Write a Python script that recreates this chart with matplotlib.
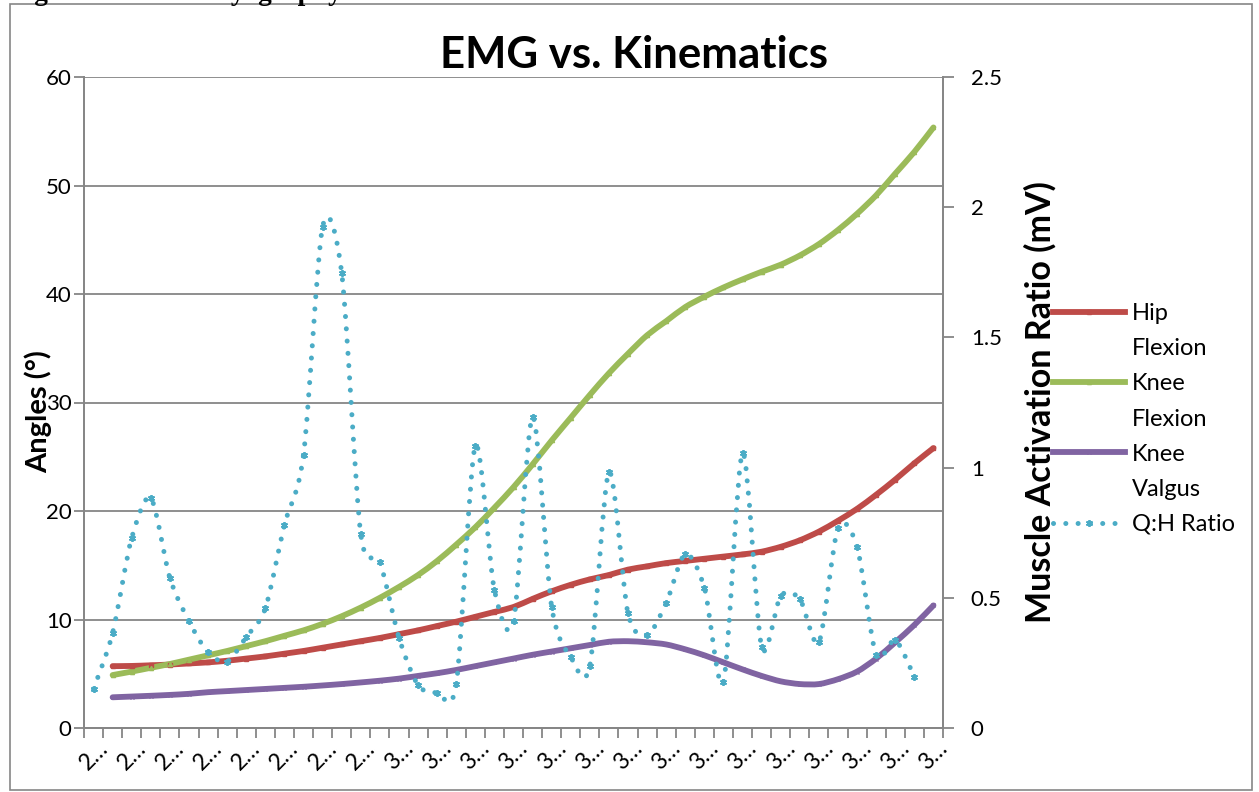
import numpy as np
import matplotlib
matplotlib.use("Agg")
import matplotlib.pyplot as plt
from matplotlib.path import Path
from matplotlib.patches import PathPatch, Rectangle
from matplotlib.lines import Line2D

plt.rcParams['font.family'] = ['Lato', 'DejaVu Sans']

# category labels (truncated time stamps as shown by Excel)
time_labels = ["2\u2026"] * 16 + ["3\u2026"] * 29

# kinematics (degrees) - categories 2..45
hip_flexion = [5.7, 5.72, 5.78, 5.85, 5.95, 6.05, 6.2, 6.4, 6.6, 6.85, 7.1, 7.4,
               7.7, 8.0, 8.3, 8.65, 9.0, 9.4, 9.8, 10.25, 10.7, 11.15, 11.9, 12.6,
               13.2, 13.7, 14.1, 14.6, 14.9, 15.2, 15.4, 15.6, 15.8, 16.0, 16.25,
               16.7, 17.3, 18.1, 19.1, 20.2, 21.5, 22.9, 24.4, 25.8]
knee_flexion = [4.88, 5.2, 5.55, 5.9, 6.3, 6.7, 7.1, 7.55, 8.0, 8.5, 9.0, 9.6,
                10.3, 11.1, 12.0, 13.0, 14.1, 15.4, 16.9, 18.5, 20.3, 22.2, 24.3,
                26.5, 28.6, 30.7, 32.7, 34.5, 36.2, 37.5, 38.8, 39.75, 40.6, 41.35,
                42.05, 42.7, 43.55, 44.6, 45.9, 47.4, 49.1, 51.1, 53.1, 55.35]
knee_valgus = [2.83, 2.9, 2.97, 3.05, 3.15, 3.3, 3.4, 3.5, 3.6, 3.7, 3.8, 3.92,
               4.05, 4.2, 4.36, 4.55, 4.8, 5.05, 5.35, 5.7, 6.05, 6.4, 6.75, 7.05,
               7.35, 7.65, 7.95, 8.0, 7.9, 7.7, 7.25, 6.7, 6.05, 5.4, 4.8, 4.3,
               4.05, 4.05, 4.5, 5.2, 6.4, 7.9, 9.5, 11.3]
# EMG ratio (mV) - categories 1..44
qh_ratio = [0.15, 0.365, 0.73, 0.883, 0.576, 0.41, 0.29, 0.255, 0.35, 0.46, 0.78,
            1.05, 1.925, 1.747, 0.745, 0.637, 0.347, 0.165, 0.136, 0.169, 1.084,
            0.53, 0.41, 1.195, 0.465, 0.272, 0.238, 0.983, 0.44, 0.357, 0.48,
            0.668, 0.538, 0.178, 1.056, 0.311, 0.507, 0.495, 0.33, 0.768, 0.695,
            0.28, 0.338, 0.196]

RED, GREEN, PURPLE, AQUA = "#BE4B48", "#9BBB59", "#8064A2", "#4BACC6"
GRID = "#868686"


def smooth_path(xs, ys, k=1 / 7):
    # Excel-style smoothed line (Bezier through each point)
    pts = np.column_stack([xs, ys]).astype(float)
    n = len(pts)
    verts = [pts[0]]
    codes = [Path.MOVETO]
    for i in range(n - 1):
        p0 = pts[i - 1] if i > 0 else pts[i]
        p1, p2 = pts[i], pts[i + 1]
        p3 = pts[i + 2] if i + 2 < n else pts[i + 1]
        verts += [p1 + (p2 - p0) * k, p2 - (p3 - p1) * k, p2]
        codes += [Path.CURVE4] * 3
    return Path(verts, codes)


W, H = 1259, 792
fig = plt.figure(figsize=(W / 100, H / 100), dpi=100)
fig.patches.append(Rectangle((10 / W, 1 - 790 / H), 1242 / W, 786 / H,
                             transform=fig.transFigure, fill=False,
                             edgecolor=GRID, lw=1.2))
fig.text(10 / W, 1.0, "Figure 1: Electromyography", family="Liberation Serif",
         weight="bold", fontsize=19.7, va="baseline", ha="left")

ax = fig.add_axes([84 / W, 1 - 728 / H, (943 - 84) / W, (728 - 77) / H])
ax2 = ax.twinx()

n_cat = len(time_labels)
x_kin = np.arange(2, n_cat + 1)
x_emg = np.arange(1, len(qh_ratio) + 1)

sw = 4.2
for vals, col, mk in [(hip_flexion, RED, "s"), (knee_flexion, GREEN, "^"),
                      (knee_valgus, PURPLE, "x")]:
    ax.add_patch(PathPatch(smooth_path(x_kin, vals), fill=False, edgecolor=col,
                           lw=sw, capstyle="round", joinstyle="round", zorder=3))
    ax.plot(x_kin, vals, ls="none", marker=mk, ms=3, color=col, mew=1, zorder=4)

ax2.add_patch(PathPatch(smooth_path(x_emg, qh_ratio), fill=False, edgecolor=AQUA,
                        lw=3.6, linestyle=(0, (0.01, 2.45)), capstyle="round",
                        zorder=3))
ax2.plot(x_emg, qh_ratio, ls="none", marker=(6, 2, 0), ms=5, mew=1.3,
         color=AQUA, zorder=4)

ax.set_xlim(0.5, n_cat + 0.5)
ax.set_ylim(0, 60)
ax2.set_ylim(0, 2.5)
ax.set_yticks(np.arange(0, 61, 10))
ax2.set_yticks([0, 0.5, 1, 1.5, 2, 2.5], ["0", "0.5", "1", "1.5", "2", "2.5"])
ax.set_xticks(np.arange(0.5, n_cat + 1), [])
odd = np.arange(1, n_cat + 1, 2)
ax.set_xticks(odd, [time_labels[i - 1] for i in odd], minor=True)
ax.tick_params(axis="x", which="minor", length=0, pad=7, labelsize=16.5,
               labelrotation=45)
for t in ax.get_xticklabels(minor=True):
    t.set_ha("center")
ax.tick_params(axis="x", which="major", length=7, width=1.3, color=GRID,
               direction="out")
ax.tick_params(axis="y", length=7, width=1.3, color=GRID, pad=2, labelsize=16)
ax2.tick_params(axis="y", length=8, width=1.3, color=GRID, pad=12, labelsize=16)

ax.grid(axis="y", color=GRID, lw=1.3)
ax.set_axisbelow(True)
for a in (ax, ax2):
    a.spines["top"].set_visible(False)
    for s in ("left", "right", "bottom"):
        a.spines[s].set_color(GRID)
        a.spines[s].set_linewidth(1.3)

fig.text(634 / W, 1 - 55 / H, "EMG vs. Kinematics", ha="center", va="center",
         fontsize=31.5, weight="bold")
fig.text(38 / W, 1 - 412 / H, "Angles (\u00b0)", rotation=90, ha="center",
         va="center", fontsize=21, weight="bold")
fig.text(1040 / W, 1 - 402 / H, "Muscle Activation Ratio (mV)", rotation=90,
         ha="center", va="center", fontsize=24.5, weight="bold")

blank = Line2D([], [], ls="none")
handles = [Line2D([], [], color=RED, lw=sw, marker="s", ms=3), blank,
           Line2D([], [], color=GREEN, lw=sw, marker="^", ms=3), blank,
           Line2D([], [], color=PURPLE, lw=sw, marker="x", ms=3), blank,
           Line2D([], [], color=AQUA, lw=3.6, ls=(0, (0.01, 2.45)),
                  dash_capstyle="round", marker=(6, 2, 0), ms=5, mew=1.3)]
labels = ["Hip", "Flexion", "Knee", "Flexion", "Knee", "Valgus", "Q:H Ratio"]
fig.legend(handles, labels, loc="upper left",
           bbox_to_anchor=(1053 / W, 1 - 303 / H), frameon=False,
           fontsize=17, borderpad=0, borderaxespad=0, handlelength=3.05,
           handletextpad=0.3, labelspacing=0.6)

fig.savefig("out.png", dpi=100)
